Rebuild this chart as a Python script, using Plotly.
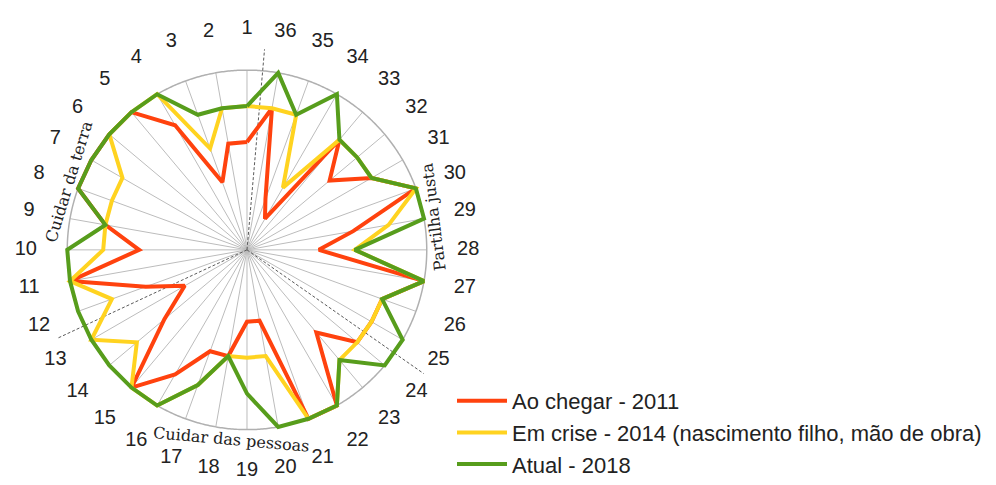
import math
import plotly.graph_objects as go

# ---- data -------------------------------------------------------------
categorias = [str(i) for i in range(1, 37)]
ao_chegar_2011 = [3, 3, 2, 4, 5, 5, 5, 5, 4, 3, 5, 3, 2, 3, 5, 4, 3, 3,
                  2, 2, 5, 5, 3, 4, 4, 4, 5, 2, 3, 5, 4, 3, 4, 1, 1.5, 4]
em_crise_2014 = [4, 4, 3, 5, 5, 5, 4, 4, 4, 4, 5, 4, 5, 4, 5, 5, 4, 3,
                 3, 3, 5, 5, 4, 4, 4, 4, 5, 3, 4, 5, 4, 4, 4, 2, 4, 4]
atual_2018 = [4, 4, 4, 5, 5, 5, 5, 5, 4, 5, 5, 5, 5, 5, 5, 5, 4, 3,
              4, 5, 5, 5, 4, 5, 5, 4, 5, 3, 5, 5, 4, 4, 4, 5, 4, 5]
series_nomes = ["Ao chegar - 2011",
                "Em crise - 2014 (nascimento filho, mão de obra)",
                "Atual - 2018"]
dimensoes = ["Cuidar da terra", "Cuidar das pessoas", "Partilha justa"]
escala_max = 5

# ---- geometry ---------------------------------------------------------
W, H = 996, 485
CX, CY, R = 247, 232, 182          # centre (from bottom) and radius of the web, px
R_ROT = 224                        # radius where the category numbers sit, px
r_rot = escala_max * R_ROT / R     # same radius in data units (axis range)

passo = 360 / len(categorias)
theta = [i * passo for i in range(len(categorias))]

cores = ["#FF420E", "#FFD320", "#579D1C"]
valores = [ao_chegar_2011, em_crise_2014, atual_2018]
cinza = "#bcbcbc"

fig = go.Figure()

# spokes of the web
raios_r, raios_t = [], []
for t in theta:
    raios_r += [0, escala_max, None]
    raios_t += [t, t, None]
fig.add_trace(go.Scatterpolar(
    r=raios_r, theta=raios_t, mode="lines",
    line=dict(color=cinza, width=1), showlegend=False, hoverinfo="skip"))

# outer ring
circ_t = [i * 0.5 for i in range(721)]
fig.add_trace(go.Scatterpolar(
    r=[escala_max] * len(circ_t), theta=circ_t, mode="lines",
    line=dict(color="#b0b0b0", width=1.5), showlegend=False,
    hoverinfo="skip"))

# dashed dividers between the three dimensions
divisores = [-passo / 2, 11.5 * passo, 23.5 * passo]
comprimentos = [5.6, 5.8, 6.0]
for ang, comp in zip(divisores, comprimentos):
    fig.add_trace(go.Scatterpolar(
        r=[0, comp], theta=[ang, ang], mode="lines",
        line=dict(color="#5a5a5a", width=1, dash="3px,2px"),
        showlegend=False, hoverinfo="skip"))

for nome, vals, cor in zip(series_nomes, valores, cores):
    fig.add_trace(go.Scatterpolar(
        r=vals + vals[:1], theta=theta + theta[:1], mode="lines",
        name=nome, line=dict(color=cor, width=4), legendgroup=nome))

# category numbers outside the ring
fig.add_trace(go.Scatterpolar(
    r=[r_rot] * len(categorias), theta=theta,
    mode="text", text=categorias, textposition="middle center",
    textfont=dict(family="Liberation Sans", size=20, color="#222222"),
    showlegend=False, hoverinfo="skip"))

fig.update_layout(
    width=W, height=H,
    margin=dict(l=0, r=0, t=0, b=0),
    paper_bgcolor="white",
    polar=dict(
        domain=dict(x=[(CX - R_ROT - 2) / W, (CX + R_ROT + 2) / W],
                    y=[(CY - R_ROT - 2) / H, (CY + R_ROT + 2) / H]),
        bgcolor="rgba(0,0,0,0)",
        radialaxis=dict(range=[0, escala_max * (R_ROT + 2) / R],
                        visible=False),
        angularaxis=dict(
            rotation=90, direction="counterclockwise",
            showticklabels=False, ticks="", showline=False,
            showgrid=False),
    ),
    legend=dict(
        x=452 / W, y=(H - 385) / H, xanchor="left", yanchor="top",
        font=dict(family="Liberation Sans", size=22, color="#222222"),
        itemwidth=50, tracegroupgap=0, bgcolor="rgba(0,0,0,0)"),
    showlegend=True,
)


def ponto(phi_deg, rho):
    a = math.radians(phi_deg)
    return (CX + rho * math.cos(a)) / W, (CY + rho * math.sin(a)) / H


# dimension captions around the ring
rotulos = [(dimensoes[0], 158.8, 191, -73),
           (dimensoes[1], 265.5, 193, 5),
           (dimensoes[2], 10.1, 190, -97)]
for texto, phi, rho, ang in rotulos:
    x, y = ponto(phi, rho)
    fig.add_annotation(x=x, y=y, xref="paper", yref="paper", text=texto,
                       showarrow=False, textangle=ang,
                       xanchor="center", yanchor="middle",
                       font=dict(family="DejaVu Serif", size=16,
                                 color="#222222"))

fig.write_html("out.html")
